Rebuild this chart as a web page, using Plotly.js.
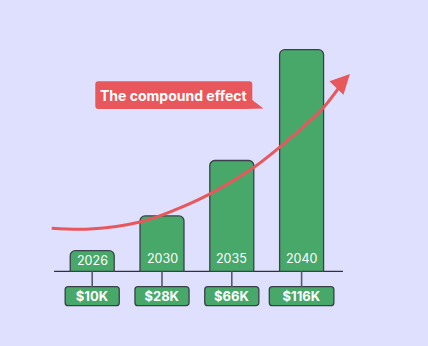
<!DOCTYPE html>
<html>
<head>
<meta charset="utf-8">
<script src="https://cdn.plot.ly/plotly-3.0.1.min.js"></script>
<style>html,body{margin:0;padding:0;background:#DFE0FE;}#chart{width:428px;height:346px;}</style>
</head>
<body>
<div id="chart"></div>
<script>
// ---- data ----
const years = ["2026", "2030", "2035", "2040"];
const barHeights = [10.8, 29, 58, 116];          // bar heights as drawn
const valueLabels = ["$10K", "$28K", "$66K", "$116K"];
const trendX = [-0.58, -0.03, 0.685, 1.186, 1.688, 2.304, 2.691, 3.006, 3.321, 3.593];
const trendY = [22.5, 22.1, 25.8, 32.1, 40.5, 54.1, 65.1, 75.0, 86.0, 99.1];
const trendTip = [3.693, 103.3];
const calloutText = "The compound effect";

// ---- style ----
const BG = "#DFE0FE", GREEN = "#48A86A", RED = "#E8575B", EDGE = "#3B3F48";
const W = 428, H = 346;
const xs = years.map((_, i) => i);
const px = (x) => x / W, py = (y) => 1 - y / H;

function roundRectPath(x0, y0, x1, y1, r, tail) {
  const P = (x, y) => px(x).toFixed(5) + "," + py(y).toFixed(5);
  let d = "M" + P(x0 + r, y0) + " L" + P(x1 - r, y0) + " Q" + P(x1, y0) + " " + P(x1, y0 + r);
  if (tail) {
    d += " L" + P(x1, tail[0][1]) + " L" + P(tail[1][0], tail[1][1]) + " L" + P(tail[2][0], y1);
  } else {
    d += " L" + P(x1, y1 - r) + " Q" + P(x1, y1) + " " + P(x1 - r, y1);
  }
  d += " L" + P(x0 + r, y1) + " Q" + P(x0, y1) + " " + P(x0, y1 - r) +
       " L" + P(x0, y0 + r) + " Q" + P(x0, y0) + " " + P(x0 + r, y0) + " Z";
  return d;
}

const traces = [
  {
    type: "bar", x: xs, y: barHeights, width: 0.63,
    marker: { color: GREEN, line: { color: EDGE, width: 1.3 }, cornerradius: 5 },
    hoverinfo: "skip"
  },
  {
    type: "bar", x: xs, y: valueLabels.map(() => 9.95), base: valueLabels.map(() => -18.0),
    width: valueLabels.map(l => l.length > 4 ? 0.925 : 0.775),
    marker: { color: GREEN, line: { color: EDGE, width: 1.3 }, cornerradius: 3 },
    text: valueLabels, textposition: "inside", insidetextanchor: "middle", constraintext: "none",
    textfont: { family: "Inter, sans-serif", size: 13, color: "#ffffff", weight: 700 },
    hoverinfo: "skip"
  },
  {
    type: "scatter", mode: "lines",
    x: xs.flatMap(x => [x, x, null]),
    y: xs.flatMap(() => [0, -8.06, null]),
    line: { color: "#555866", width: 1.6 }, hoverinfo: "skip"
  },
  {
    type: "scatter", mode: "lines", x: trendX, y: trendY,
    line: { color: RED, width: 3, shape: "spline", smoothing: 1 }, hoverinfo: "skip"
  }
];

const annotations = years.map((yr, i) => ({
  x: i, y: Math.min(barHeights[i] / 2, 6.8), xref: "x", yref: "y",
  text: yr, showarrow: false, xanchor: "center", yanchor: "middle",
  font: { family: "Inter, sans-serif", size: 12.5, color: "#ffffff" }
}));
annotations.push({
  x: trendTip[0], y: trendTip[1], ax: 3.5, ay: 96, axref: "x", ayref: "y", xref: "x", yref: "y",
  text: "", showarrow: true, arrowhead: 2, arrowsize: 1.3, arrowwidth: 3, arrowcolor: RED, standoff: 0
});
annotations.push({
  x: px(173.3), y: py(95.5), xref: "paper", yref: "paper", xanchor: "center", yanchor: "middle",
  text: "<b>" + calloutText + "</b>", showarrow: false,
  font: { family: "Inter, sans-serif", size: 14, color: "#ffffff" }
});

const shapes = [
  { type: "line", xref: "x", yref: "y", x0: -0.547, x1: 3.593, y0: 0, y1: 0,
    line: { color: "#2F323A", width: 1.2 }, layer: "below" },
  { type: "path", xref: "paper", yref: "paper", layer: "above",
    path: roundRectPath(95.3, 81.3, 252.3, 109, 3, [[251, 100], [263.5, 108.5], [244, 109]]),
    fillcolor: RED, line: { width: 0 } }
];

const layout = {
  width: W, height: H, margin: { l: 0, r: 0, t: 0, b: 0 },
  paper_bgcolor: BG, plot_bgcolor: BG, showlegend: false, barmode: "overlay",
  hovermode: false,
  xaxis: { range: [-1.321, 4.811], visible: false, fixedrange: true },
  yaxis: { range: [-39.1, 142.0], visible: false, fixedrange: true },
  annotations: annotations, shapes: shapes
};

Plotly.newPlot("chart", traces, layout, { displayModeBar: false, staticPlot: true });
</script>
</body>
</html>
